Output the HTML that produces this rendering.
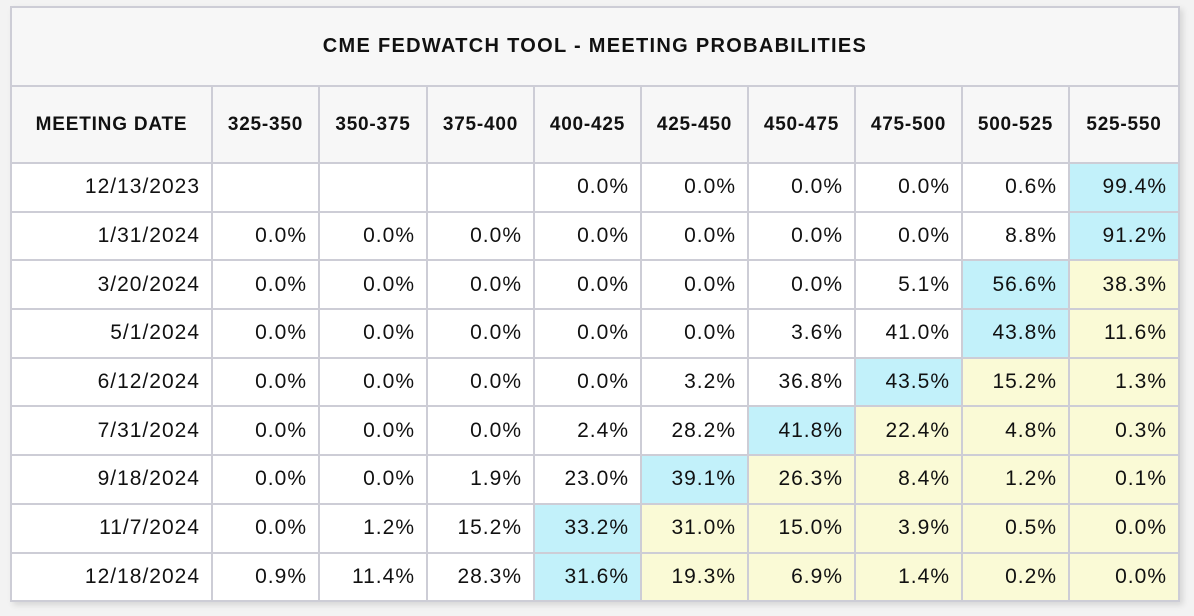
<!DOCTYPE html>
<html><head><meta charset="utf-8"><style>
html,body{margin:0;padding:0;background:#f3f3f3;width:1194px;height:616px;overflow:hidden}
table{position:absolute;left:10px;top:6px;border-collapse:collapse;font-family:"Liberation Sans",Arial,sans-serif;color:#111;box-shadow:3px 3px 6px rgba(0,0,0,0.12);table-layout:fixed}
td,th{border:2px solid #cdcdd6;padding:0 11px 0 0;text-align:right;font-size:21px;letter-spacing:1px;height:46.7px;background:#fff;white-space:nowrap;overflow:hidden}
th{font-weight:bold;font-size:19px;letter-spacing:0.8px;background:#f7f7f7;height:75px;text-align:center;padding:0}
th.title{height:77px;font-size:20px;letter-spacing:1.3px}
.c{background:#c2f1fa}.y{background:#fafad6}
</style></head><body>
<table>
<colgroup><col style="width:201px"><col style="width:107px"><col style="width:108px"><col style="width:107px"><col style="width:107px"><col style="width:107px"><col style="width:107px"><col style="width:107px"><col style="width:107px"><col style="width:110px"></colgroup>
<tr><th class="title" colspan="10">CME FEDWATCH TOOL - MEETING PROBABILITIES</th></tr>
<tr><th>MEETING DATE</th><th>325-350</th><th>350-375</th><th>375-400</th><th>400-425</th><th>425-450</th><th>450-475</th><th>475-500</th><th>500-525</th><th>525-550</th></tr>
<tr><td>12/13/2023</td><td></td><td></td><td></td><td>0.0%</td><td>0.0%</td><td>0.0%</td><td>0.0%</td><td>0.6%</td><td class="c">99.4%</td></tr>
<tr><td>1/31/2024</td><td>0.0%</td><td>0.0%</td><td>0.0%</td><td>0.0%</td><td>0.0%</td><td>0.0%</td><td>0.0%</td><td>8.8%</td><td class="c">91.2%</td></tr>
<tr><td>3/20/2024</td><td>0.0%</td><td>0.0%</td><td>0.0%</td><td>0.0%</td><td>0.0%</td><td>0.0%</td><td>5.1%</td><td class="c">56.6%</td><td class="y">38.3%</td></tr>
<tr><td>5/1/2024</td><td>0.0%</td><td>0.0%</td><td>0.0%</td><td>0.0%</td><td>0.0%</td><td>3.6%</td><td>41.0%</td><td class="c">43.8%</td><td class="y">11.6%</td></tr>
<tr><td>6/12/2024</td><td>0.0%</td><td>0.0%</td><td>0.0%</td><td>0.0%</td><td>3.2%</td><td>36.8%</td><td class="c">43.5%</td><td class="y">15.2%</td><td class="y">1.3%</td></tr>
<tr><td>7/31/2024</td><td>0.0%</td><td>0.0%</td><td>0.0%</td><td>2.4%</td><td>28.2%</td><td class="c">41.8%</td><td class="y">22.4%</td><td class="y">4.8%</td><td class="y">0.3%</td></tr>
<tr><td>9/18/2024</td><td>0.0%</td><td>0.0%</td><td>1.9%</td><td>23.0%</td><td class="c">39.1%</td><td class="y">26.3%</td><td class="y">8.4%</td><td class="y">1.2%</td><td class="y">0.1%</td></tr>
<tr><td>11/7/2024</td><td>0.0%</td><td>1.2%</td><td>15.2%</td><td class="c">33.2%</td><td class="y">31.0%</td><td class="y">15.0%</td><td class="y">3.9%</td><td class="y">0.5%</td><td class="y">0.0%</td></tr>
<tr><td>12/18/2024</td><td>0.9%</td><td>11.4%</td><td>28.3%</td><td class="c">31.6%</td><td class="y">19.3%</td><td class="y">6.9%</td><td class="y">1.4%</td><td class="y">0.2%</td><td class="y">0.0%</td></tr>
</table>
</body></html>
